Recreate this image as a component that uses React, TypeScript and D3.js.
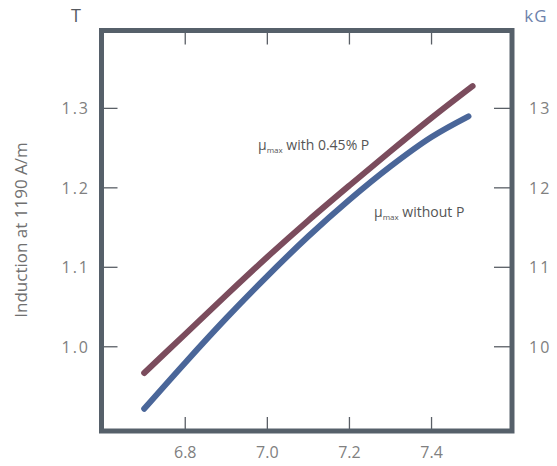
import React from "react";
import * as d3 from "d3";

const xTicks = [6.8, 7.0, 7.2, 7.4];
const yTicksT = [1.0, 1.1, 1.2, 1.3];
const yTicksKG = [10, 11, 12, 13];

const xWithP = [6.7, 6.8, 6.9, 7.0, 7.1, 7.2, 7.3, 7.4, 7.5];
const yWithP = [0.967, 1.016, 1.065, 1.113, 1.159, 1.203, 1.246, 1.288, 1.328];

const xWithoutP = [6.7, 6.8, 6.9, 7.0, 7.1, 7.2, 7.3, 7.4, 7.49];
const yWithoutP = [0.922, 0.980, 1.036, 1.089, 1.139, 1.185, 1.227, 1.264, 1.290];

const W = 557;
const H = 466;
const L = 101.5, R = 512, T = 30.5, B = 431;

export default function App() {
  const x = d3.scaleLinear().domain([6.596, 7.596]).range([L, R]);
  const y = d3.scaleLinear().domain([0.894, 1.398]).range([B, T]);
  const yKG = d3.scaleLinear().domain([8.94, 13.98]).range([B, T]);

  const line = d3
    .line<[number, number]>()
    .x((d) => x(d[0]))
    .y((d) => y(d[1]))
    .curve(d3.curveMonotoneX);

  const withP = xWithP.map((v, i) => [v, yWithP[i]] as [number, number]);
  const withoutP = xWithoutP.map((v, i) => [v, yWithoutP[i]] as [number, number]);

  const font = "'Open Sans', 'Lato', sans-serif";
  const tickCol = "#5a5f66";
  const labelCol = "#808080";

  return (
    <svg
      width={W}
      height={H}
      style={{ position: "absolute", left: 0, top: 0, background: "#fff" }}
      fontFamily={font}
    >
      {xTicks.map((t) => (
        <g key={"x" + t}>
          <line x1={x(t)} x2={x(t)} y1={B} y2={B - 14} stroke={tickCol} strokeWidth={1.3} />
          <line x1={x(t)} x2={x(t)} y1={T} y2={T + 14} stroke={tickCol} strokeWidth={1.3} />
          <text x={x(t)} y={458} textAnchor="middle" fontSize={16} fill={labelCol}>
            {t.toFixed(1)}
          </text>
        </g>
      ))}
      {yTicksT.map((t) => (
        <g key={"y" + t}>
          <line x1={L} x2={L + 16} y1={y(t)} y2={y(t)} stroke={tickCol} strokeWidth={1.3} />
          <text
            x={90}
            y={y(t) + 6}
            textAnchor="end"
            fontSize={16}
            letterSpacing={2}
            fill={labelCol}
          >
            {t.toFixed(1)}
          </text>
        </g>
      ))}
      {yTicksKG.map((t) => (
        <g key={"k" + t}>
          <line x1={R - 18} x2={R} y1={yKG(t)} y2={yKG(t)} stroke={tickCol} strokeWidth={1.3} />
          <text x={529} y={yKG(t) + 6} fontSize={16} letterSpacing={2} fill={labelCol}>
            {t}
          </text>
        </g>
      ))}

      <path
        d={line(withP) || ""}
        fill="none"
        stroke="#7b4c5d"
        strokeWidth={6}
        strokeLinecap="round"
      />
      <path
        d={line(withoutP) || ""}
        fill="none"
        stroke="#4a6699"
        strokeWidth={6}
        strokeLinecap="round"
      />

      <rect
        x={L}
        y={T}
        width={R - L}
        height={B - T}
        fill="none"
        stroke="#56606a"
        strokeWidth={5}
      />

      <text x={76} y={22} textAnchor="middle" fontSize={18} fill="#55595f">
        T
      </text>
      <text x={536} y={22} textAnchor="middle" fontSize={17} letterSpacing={1} fill="#6d82ab">
        kG
      </text>

      <text
        transform="translate(27,230) rotate(-90)"
        textAnchor="middle"
        fontSize={17}
        fill="#707070"
      >
        Induction at 1190 A/m
      </text>

      <text x={258} y={150} fontSize={14} fill="#555">
        μ<tspan fontSize={8} dy={3}>max</tspan>
        <tspan dy={-3}> with 0.45% P</tspan>
      </text>
      <text x={374} y={217} fontSize={14} fill="#555">
        μ<tspan fontSize={8} dy={3}>max</tspan>
        <tspan dy={-3}> without P</tspan>
      </text>
    </svg>
  );
}
